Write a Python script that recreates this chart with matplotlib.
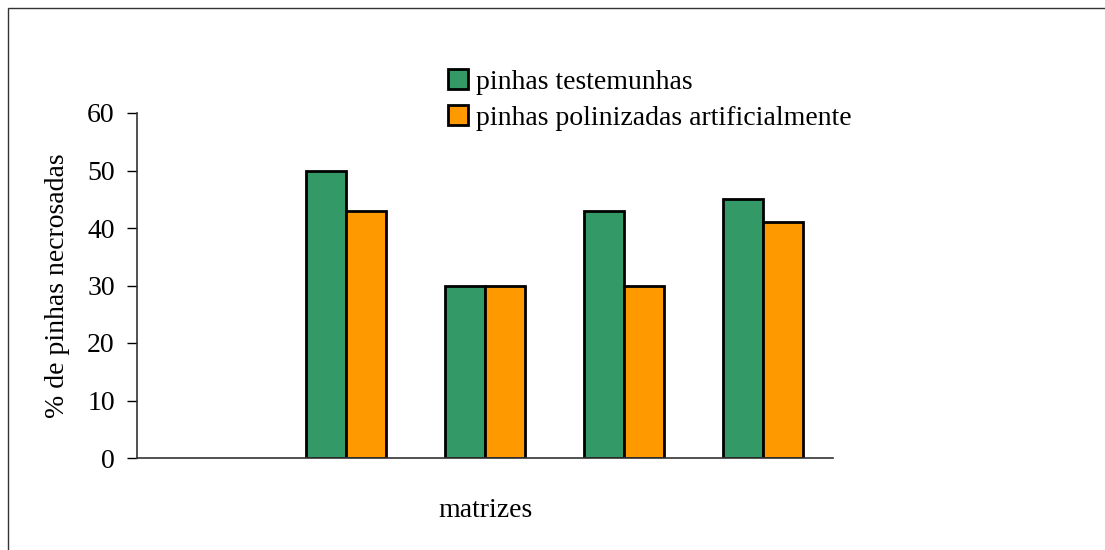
import numpy as np
import matplotlib
matplotlib.use("Agg")
import matplotlib.pyplot as plt
from matplotlib.patches import Rectangle

# first slot of the category axis is empty in the original chart
matrizes = ["", "1", "2", "3", "4"]
testemunhas = [np.nan, 50, 30, 43, 45]
polinizadas = [np.nan, 43, 30, 30, 41]

GREEN = "#339966"
ORANGE = "#FF9900"

plt.rcParams["font.family"] = ["Liberation Serif", "DejaVu Serif"]

fig = plt.figure(figsize=(11.05, 5.5), dpi=100)
# outer chart-area frame (only top and left edges visible in the reference)
fig.patches.append(Rectangle((8 / 1105, -0.1), 1.2, 1 - 8 / 550 + 0.1,
                             transform=fig.transFigure, fill=False,
                             edgecolor="#333333", linewidth=1.0))

ax = fig.add_axes([137 / 1105, 1 - 458 / 550, (833 - 137) / 1105, (458 - 113) / 550])

x = np.arange(len(matrizes))
w = 0.2875
ax.bar(x - w / 2, testemunhas, w, color=GREEN, edgecolor="black", linewidth=2,
       label="pinhas testemunhas")
ax.bar(x + w / 2, polinizadas, w, color=ORANGE, edgecolor="black", linewidth=2,
       label="pinhas polinizadas artificialmente")

ax.set_xlim(-0.5, len(matrizes) - 0.5)
ax.set_ylim(0, 60)
ax.set_yticks(range(0, 61, 10))
ax.set_xticks([])
ax.tick_params(axis="y", labelsize=20, length=7, width=1, direction="out", pad=9)
for s in ("top", "right"):
    ax.spines[s].set_visible(False)
for s in ("left", "bottom"):
    ax.spines[s].set_color("#333333")
    ax.spines[s].set_linewidth(1.2)

ax.set_ylabel("% de pinhas necrosadas", fontsize=20, labelpad=12)
ax.set_xlabel("matrizes", fontsize=20, labelpad=29)

leg = ax.legend(loc="upper left", bbox_to_anchor=(0.431, 1.16), frameon=False,
                fontsize=20, handlelength=0.72, handleheight=0.72,
                handletextpad=0.3, labelspacing=0.38, borderaxespad=0)
for h in leg.legend_handles:
    h.set_linewidth(2)

fig.savefig("out.png", dpi=100)
